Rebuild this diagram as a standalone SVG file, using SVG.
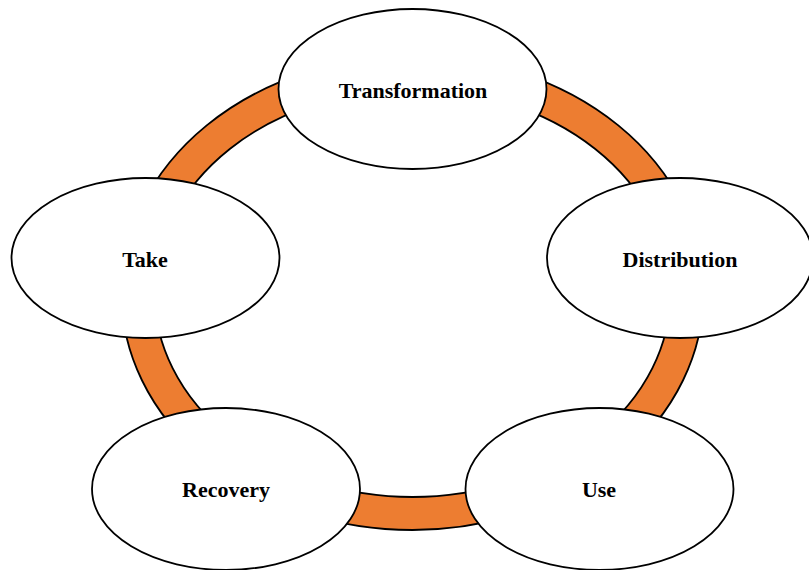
<svg xmlns="http://www.w3.org/2000/svg" width="809" height="570" viewBox="0 0 809 570">
<style>
.node{fill:#ffffff;stroke:#000000;stroke-width:1.8}
.lbl{font-family:"Liberation Serif","Times New Roman",serif;font-weight:bold;font-size:22px;fill:#000000;text-anchor:middle}
.ring{fill:#ED7D31;stroke:#000000;stroke-width:1.8}
.hole{fill:#ffffff;stroke:#000000;stroke-width:1.8}
</style>
<rect width="809" height="570" fill="#ffffff"/>
<g id="connectors">
<ellipse class="ring" cx="412.5" cy="293" rx="291" ry="237"/>
<ellipse class="hole" cx="412.5" cy="293" rx="258" ry="204"/>
</g>
<g id="transformation">
<ellipse class="node" cx="412.5" cy="89" rx="134" ry="80"/>
<text class="lbl" x="413" y="98">Transformation</text>
</g>
<g id="take">
<ellipse class="node" cx="145.5" cy="258" rx="134" ry="80"/>
<text class="lbl" x="145" y="267">Take</text>
</g>
<g id="distribution">
<ellipse class="node" cx="680" cy="258" rx="133" ry="80"/>
<text class="lbl" x="680" y="267">Distribution</text>
</g>
<g id="recovery">
<ellipse class="node" cx="226" cy="489" rx="134" ry="81"/>
<text class="lbl" x="226" y="497">Recovery</text>
</g>
<g id="use">
<ellipse class="node" cx="599.5" cy="489" rx="134" ry="81"/>
<text class="lbl" x="599" y="497">Use</text>
</g>
</svg>
